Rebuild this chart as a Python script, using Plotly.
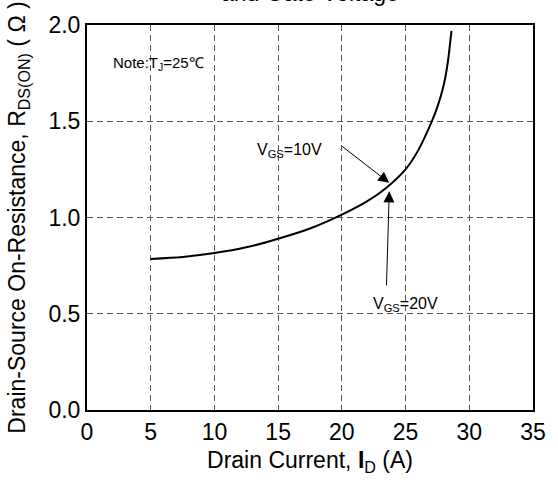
import plotly.graph_objects as go

# Data
drain_current = [5, 7.5, 10, 12.5, 15, 17.5, 20, 22, 23.5, 25, 26, 27, 27.5, 28, 28.3, 28.6]
r_ds_on = [0.785, 0.795, 0.815, 0.845, 0.89, 0.943, 1.015, 1.085, 1.155, 1.25, 1.35, 1.49, 1.575, 1.69, 1.8, 1.97]

x_ticks = [0, 5, 10, 15, 20, 25, 30, 35]
y_ticks = [0.0, 0.5, 1.0, 1.5, 2.0]

# annotation arrows: label, text position, tail, tip
labels = ["V<sub>GS</sub>=10V", "V<sub>GS</sub>=20V"]
label_x = [15.9, 25.0]
label_y = [1.35, 0.547]
tail_x = [19.9, 23.5]
tail_y = [1.376, 0.64]
tip_x = [23.72, 23.72]
tip_y = [1.18, 1.136]

FONT = "Liberation Sans, Arial, sans-serif"

fig = go.Figure()
fig.add_trace(go.Scatter(
    x=drain_current, y=r_ds_on, mode="lines",
    line=dict(color="black", width=2, shape="spline", smoothing=0.8),
    showlegend=False, hoverinfo="skip",
))

axis_common = dict(
    showline=True, linecolor="black", linewidth=2, mirror=True,
    showgrid=True, gridcolor="#555555", gridwidth=1, griddash="6px,4px",
    zeroline=False, ticks="", tickfont=dict(family=FONT, size=23, color="black"),
)

fig.update_layout(
    width=558, height=481,
    margin=dict(l=87, r=13, t=25, b=65),
    paper_bgcolor="white", plot_bgcolor="white",
    font=dict(family=FONT, color="black"),
    xaxis=dict(range=[0, 35], tickvals=x_ticks, ticktext=[str(v) for v in x_ticks],
               title=dict(text="Drain Current, <b>I</b><sub>D</sub> (A)",
                          font=dict(family=FONT, size=23, color="black"), standoff=8),
               **axis_common),
    yaxis=dict(range=[0, 2], tickvals=y_ticks, ticktext=[f"{v:.1f}" for v in y_ticks],
               title=dict(text="Drain-Source On-Resistance, R<sub>DS(ON)</sub> ( Ω )",
                          font=dict(family=FONT, size=23, color="black"), standoff=16),
               **axis_common),
)

# Partially visible title line at the top
fig.add_annotation(text="and Gate Voltage", xref="paper", yref="paper",
                   x=0.5, y=1.045, xanchor="center", yanchor="bottom", showarrow=False,
                   font=dict(family=FONT, size=23, color="black"))

fig.add_annotation(text="Note:T<sub>J</sub>=25℃", xref="x", yref="y",
                   x=5.6, y=1.8, xanchor="center", yanchor="middle", showarrow=False,
                   font=dict(family=FONT, size=15, color="black"))

for i in range(len(labels)):
    fig.add_annotation(text=labels[i], xref="x", yref="y", x=label_x[i], y=label_y[i],
                       xanchor="center", yanchor="middle", showarrow=False,
                       font=dict(family=FONT, size=16, color="black"))
    fig.add_annotation(text="", xref="x", yref="y", x=tip_x[i], y=tip_y[i],
                       axref="x", ayref="y", ax=tail_x[i], ay=tail_y[i],
                       showarrow=True, arrowhead=2, arrowsize=2.2, arrowwidth=1,
                       arrowcolor="black")

fig.write_html("out.html")
